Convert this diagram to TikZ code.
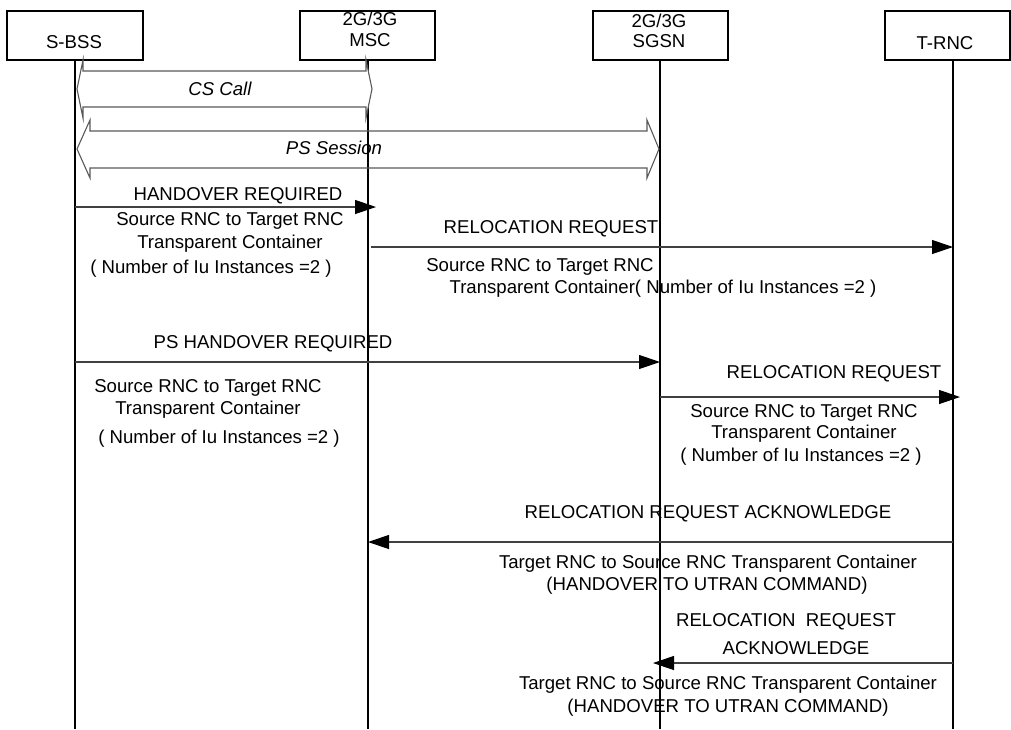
\documentclass[tikz,border=0pt]{standalone}
\usepackage{fontspec}
\setmainfont{Liberation Sans}
\usetikzlibrary{arrows.meta}
\begin{document}
\begin{tikzpicture}[x=1pt,y=-1pt,
	font=\fontsize{18.6}{22}\selectfont,
	ent/.style={draw,line width=1.6pt,minimum height=49pt,inner sep=0pt},
	life/.style={line width=2pt},
	msg/.style={draw=black!75,line width=1.2pt,-{Triangle[length=21pt,width=14pt,color=black]}},
	txt/.style={anchor=base,inner sep=0pt},
	blk/.style={draw=black!65,line width=1.1pt,line join=miter}]
	\useasboundingbox (0,0) rectangle (1011,729);
	\coordinate (bot) at (0,729);
	\foreach \n/\x/\w in {bss/75/136,msc/367.5/135,sgsn/660.5/135,trnc/947.5/125} \node[ent,minimum width=\w pt] (\n) at (\x,35.5) {};
	\node[txt] (bsst) at (74,48.5) {S-BSS};
	\node[txt] (msct) at (370,25.5) {2G/3G};
	\node[txt] (msctb) at (370,46.5) {MSC};
	\node[txt] (sgsnt) at (659,27.5) {2G/3G};
	\node[txt] (sgsntb) at (659,47.5) {SGSN};
	\node[txt] (trnct) at (945,49.5) {T-RNC};
	\foreach \n/\x in {lbss/75,lmsc/368,lsgsn/660,lrnc/953} {
		\coordinate (\n) at (\x,60);
		\draw[life] (\n) -- (\n |- bot);
	}
	\draw[blk] (90,131) -- (647,131) -- (647,120) -- (659,149) -- (647,178) -- (647,168) -- (90,168) -- (90,178) -- (77,149) -- (90,120) -- cycle;
	\draw[blk,fill=white] (83,71) -- (366,71) -- (366,60) -- (372,89) -- (366,118) -- (366,107) -- (83,107) -- (83,118) -- (77,89) -- (83,60) -- cycle;
	\node[txt,font=\fontsize{18.6}{22}\selectfont\itshape] (cs) at (220,95.7) {CS Call};
	\node[txt,font=\fontsize{18.6}{22}\selectfont\itshape] (ps) at (334,154.7) {PS Session};
	\foreach \n/\y in {m1/207,m2/247,m3/362,m4/397,m5/542,m6/663} \coordinate (\n) at (0,\y);
	\draw[msg] (lbss |- m1) -- ([xshift=8pt]lmsc |- m1);
	\draw[msg] ([xshift=3pt]lmsc |- m2) -- (lrnc |- m2);
	\draw[msg] (lbss |- m3) -- (lsgsn |- m3);
	\draw[msg] (lsgsn |- m4) -- ([xshift=7pt]lrnc |- m4);
	\draw[msg] (lrnc |- m5) -- (lmsc |- m5);
	\draw[msg] (lrnc |- m6) -- ([xshift=-7pt]lsgsn |- m6);
	\node[txt] (hoT) at (238,200) {HANDOVER REQUIRED};
	\node[txt] (hoA) at (230,225.7) {Source RNC to Target RNC};
	\node[txt] (hoB) at (230,248.7) {Transparent Container};
	\node[txt] (hoC) at (211,273.7) {( Number of Iu Instances =2 )};
	\node[txt] (rr1T) at (551,233.7) {RELOCATION REQUEST};
	\node[txt] (rr1A) at (540,271.7) {Source RNC to Target RNC};
	\node[txt] (rr1B) at (663,293.7) {Transparent Container( Number of Iu Instances =2 )};
	\node[txt] (psT) at (273,348.7) {PS HANDOVER REQUIRED};
	\node[txt] (psA) at (208,392.7) {Source RNC to Target RNC};
	\node[txt] (psB) at (208,414.7) {Transparent Container};
	\node[txt] (psC) at (219,443.7) {( Number of Iu Instances =2 )};
	\node[txt] (rr2T) at (834,378.7) {RELOCATION REQUEST};
	\node[txt] (rr2A) at (804,417.7) {Source RNC to Target RNC};
	\node[txt] (rr2B) at (804,438.7) {Transparent Container};
	\node[txt] (rr2C) at (801,461.7) {( Number of Iu Instances =2 )};
	\node[txt] (ra1T) at (708,518.7) {RELOCATION REQUEST ACKNOWLEDGE};
	\node[txt] (ra1A) at (708,568.7) {Target RNC to Source RNC Transparent Container};
	\node[txt] (ra1B) at (707,590.7) {(HANDOVER TO UTRAN COMMAND)};
	\node[txt] (ra2T) at (786,626.7) {RELOCATION\ \ REQUEST};
	\node[txt] (ra2B) at (796,654.7) {ACKNOWLEDGE};
	\node[txt] (ra2A) at (728,689.7) {Target RNC to Source RNC Transparent Container};
	\node[txt] (ra2C) at (728,712.7) {(HANDOVER TO UTRAN COMMAND)};
\end{tikzpicture}
\end{document}
